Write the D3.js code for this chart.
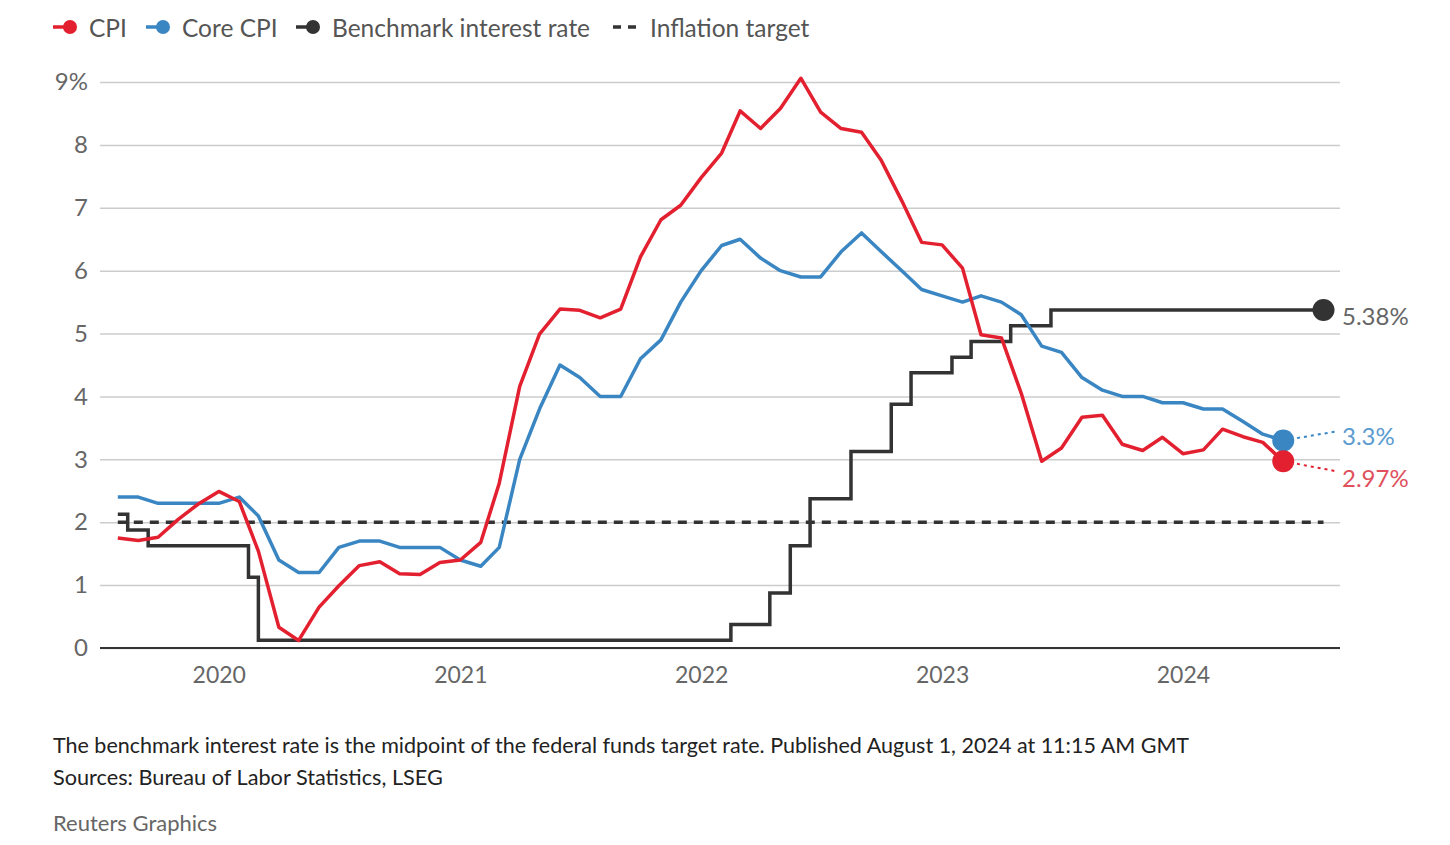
<!DOCTYPE html>
<html>
<head>
<meta charset="utf-8">
<script src="https://cdn.jsdelivr.net/npm/d3@7"></script>
<style>
  html, body { margin: 0; padding: 0; background: #fff; }
  svg { display: block; font-family: Lato, "Noto Sans", sans-serif; }
</style>
</head>
<body>
<svg id="chart" width="1450" height="845"></svg>
<script>
// ---------------- DATA ----------------
const firstMonth = "2019-08-01";           // first monthly observation
const lastMonth  = "2024-06-01";           // last monthly observation
const cpi = [1.75, 1.71, 1.76, 2.05, 2.29,
  2.49, 2.33, 1.54, 0.33, 0.12, 0.65, 0.99, 1.31, 1.37, 1.18, 1.17, 1.36,
  1.40, 1.68, 2.62, 4.16, 4.99, 5.39, 5.37, 5.25, 5.39, 6.22, 6.81, 7.04,
  7.48, 7.87, 8.54, 8.26, 8.58, 9.06, 8.52, 8.26, 8.20, 7.75, 7.11, 6.45,
  6.41, 6.04, 4.98, 4.93, 4.05, 2.97, 3.18, 3.67, 3.70, 3.24, 3.14, 3.35,
  3.09, 3.15, 3.48, 3.36, 3.27, 2.97];
const coreCpi = [2.4, 2.4, 2.3, 2.3, 2.3,
  2.3, 2.4, 2.1, 1.4, 1.2, 1.2, 1.6, 1.7, 1.7, 1.6, 1.6, 1.6,
  1.4, 1.3, 1.6, 3.0, 3.8, 4.5, 4.3, 4.0, 4.0, 4.6, 4.9, 5.5,
  6.0, 6.4, 6.5, 6.2, 6.0, 5.9, 5.9, 6.3, 6.6, 6.3, 6.0, 5.7,
  5.6, 5.5, 5.6, 5.5, 5.3, 4.8, 4.7, 4.3, 4.1, 4.0, 4.0, 3.9,
  3.9, 3.8, 3.8, 3.6, 3.4, 3.3];
// Benchmark rate (midpoint of fed funds target), step changes as drawn
const rateDates = ["2019-08-01", "2019-08-16", "2019-09-16", "2020-02-15", "2020-03-01",
  "2022-02-15", "2022-04-15", "2022-05-16", "2022-06-15", "2022-08-16", "2022-10-16",
  "2022-11-15", "2023-01-16", "2023-02-14", "2023-04-15", "2023-06-15", "2024-08-01"];
const rateValues = [2.125, 1.875, 1.625, 1.125, 0.125,
  0.375, 0.875, 1.625, 2.375, 3.125, 3.875,
  4.375, 4.625, 4.875, 5.125, 5.375, 5.375];
const inflationTarget = 2;
const targetRange = ["2019-08-01", "2024-08-01"];
const yTicks = [0, 1, 2, 3, 4, 5, 6, 7, 8, 9];
const xTickYears = ["2020-01-01", "2021-01-01", "2022-01-01", "2023-01-01", "2024-01-01"];
const xDomain = ["2019-07-05", "2024-08-26"];
const endLabels = { rate: "5.38%", core: "3.3%", cpi: "2.97%" };
const legendItems = ["CPI", "Core CPI", "Benchmark interest rate", "Inflation target"];
const footnote = "The benchmark interest rate is the midpoint of the federal funds target rate. Published August 1, 2024 at 11:15 AM GMT";
const sources = "Sources: Bureau of Labor Statistics, LSEG";
const credit = "Reuters Graphics";

// ---------------- STYLE ----------------
const RED = "#e3202f", BLUE = "#3a86c3", BLACK = "#333333";
const parse = d3.utcParse("%Y-%m-%d");
const months = d3.utcMonth.range(parse(firstMonth), d3.utcMonth.offset(parse(lastMonth), 1));

const svg = d3.select("#chart");
const x = d3.scaleUtc().domain(xDomain.map(parse)).range([100, 1340]);
const y = d3.scaleLinear().domain([0, 9]).range([648, 82]);

// gridlines + y labels
const yAxis = d3.axisLeft(y).tickValues(yTicks)
  .tickSize(-(1340 - 100)).tickPadding(12)
  .tickFormat(d => d === 9 ? "9%" : d);
const gy = svg.append("g").attr("transform", "translate(100,0)").call(yAxis);
gy.select(".domain").remove();
gy.selectAll(".tick line").attr("stroke", "#cccccc").attr("stroke-width", 1.5);
gy.selectAll(".tick text").attr("fill", "#666").style("font-size", "24px")
  .style("font-family", "Lato, 'Noto Sans', sans-serif");

// baseline
svg.append("line").attr("x1", 100).attr("x2", 1340).attr("y1", y(0)).attr("y2", y(0))
  .attr("stroke", BLACK).attr("stroke-width", 2);

// x axis labels
const xAxis = d3.axisBottom(x).tickValues(xTickYears.map(parse))
  .tickSize(0).tickPadding(19).tickFormat(d3.utcFormat("%Y"));
const gx = svg.append("g").attr("transform", `translate(0,${y(0)})`).call(xAxis);
gx.select(".domain").remove();
gx.selectAll(".tick text").attr("fill", "#666").style("font-size", "23px")
  .style("font-family", "Lato, 'Noto Sans', sans-serif");

// inflation target
svg.append("line")
  .attr("x1", x(parse(targetRange[0]))).attr("x2", x(parse(targetRange[1])))
  .attr("y1", y(inflationTarget)).attr("y2", y(inflationTarget))
  .attr("stroke", BLACK).attr("stroke-width", 3.5).attr("stroke-dasharray", "9,7");

// benchmark rate
const rateData = rateDates.map((d, i) => ({ date: parse(d), v: rateValues[i] }));
svg.append("path").datum(rateData)
  .attr("fill", "none").attr("stroke", BLACK).attr("stroke-width", 3.5)
  .attr("d", d3.line().x(d => x(d.date)).y(d => y(d.v)).curve(d3.curveStepAfter));

// core & cpi lines
const line = d3.line().x(d => x(d.date)).y(d => y(d.v));
const coreData = months.map((m, i) => ({ date: m, v: coreCpi[i] }));
const cpiData = months.map((m, i) => ({ date: m, v: cpi[i] }));
svg.append("path").datum(coreData).attr("fill", "none").attr("stroke", BLUE)
  .attr("stroke-width", 3.5).attr("stroke-linejoin", "round").attr("d", line);
svg.append("path").datum(cpiData).attr("fill", "none").attr("stroke", RED)
  .attr("stroke-width", 3.5).attr("stroke-linejoin", "round").attr("d", line);

// end markers
const lastRate = rateData[rateData.length - 1];
const lastCore = coreData[coreData.length - 1];
const lastCpi = cpiData[cpiData.length - 1];

// leaders
svg.append("line").attr("x1", x(lastCore.date)).attr("y1", y(lastCore.v))
  .attr("x2", 1336).attr("y2", y(lastCore.v) - 9)
  .attr("stroke", BLUE).attr("stroke-width", 2).attr("stroke-dasharray", "3,4");
svg.append("line").attr("x1", x(lastCpi.date)).attr("y1", y(lastCpi.v))
  .attr("x2", 1336).attr("y2", y(lastCpi.v) + 10)
  .attr("stroke", RED).attr("stroke-width", 2).attr("stroke-dasharray", "3,4");

svg.append("circle").attr("cx", x(lastRate.date)).attr("cy", y(lastRate.v)).attr("r", 11).attr("fill", BLACK);
svg.append("circle").attr("cx", x(lastCore.date)).attr("cy", y(lastCore.v)).attr("r", 11).attr("fill", BLUE);
svg.append("circle").attr("cx", x(lastCpi.date)).attr("cy", y(lastCpi.v)).attr("r", 11).attr("fill", RED);

const endText = (txt, yy, col) => svg.append("text").attr("x", 1342).attr("y", yy)
  .attr("dominant-baseline", "central").attr("fill", col)
  .style("font-size", "24px").text(txt);
endText(endLabels.rate, y(lastRate.v) + 6, "#666");
endText(endLabels.core, y(lastCore.v) - 5, "#5b9bd0");
endText(endLabels.cpi, y(lastCpi.v) + 16, "#e0505d");

// legend
const lg = svg.append("g").attr("transform", "translate(0,27)");
const legendDefs = [
  { x: 53, col: RED, text: legendItems[0], tx: 89 },
  { x: 146, col: BLUE, text: legendItems[1], tx: 182 },
  { x: 296, col: BLACK, text: legendItems[2], tx: 332 }
];
legendDefs.forEach(d => {
  lg.append("line").attr("x1", d.x).attr("x2", d.x + 16).attr("y1", 0).attr("y2", 0)
    .attr("stroke", d.col).attr("stroke-width", 3.5);
  lg.append("circle").attr("cx", d.x + 17).attr("cy", 0).attr("r", 7).attr("fill", d.col);
  lg.append("text").attr("x", d.tx).attr("y", 0).attr("dominant-baseline", "central")
    .attr("fill", "#555").style("font-size", "24.5px").text(d.text);
});
lg.append("line").attr("x1", 613).attr("x2", 640).attr("y1", 0).attr("y2", 0)
  .attr("stroke", BLACK).attr("stroke-width", 3.5).attr("stroke-dasharray", "8,7");
lg.append("text").attr("x", 650).attr("y", 0).attr("dominant-baseline", "central")
  .attr("fill", "#555").style("font-size", "24.5px").text(legendItems[3]);

// footer
svg.append("text").attr("x", 53).attr("y", 745).attr("dominant-baseline", "central")
  .attr("fill", "#222").style("font-size", "21.5px").text(footnote);
svg.append("text").attr("x", 53).attr("y", 777).attr("dominant-baseline", "central")
  .attr("fill", "#222").style("font-size", "21.7px").text(sources);
svg.append("text").attr("x", 53).attr("y", 822).attr("dominant-baseline", "central")
  .attr("fill", "#666").style("font-size", "22px").text(credit);
</script>
</body>
</html>
